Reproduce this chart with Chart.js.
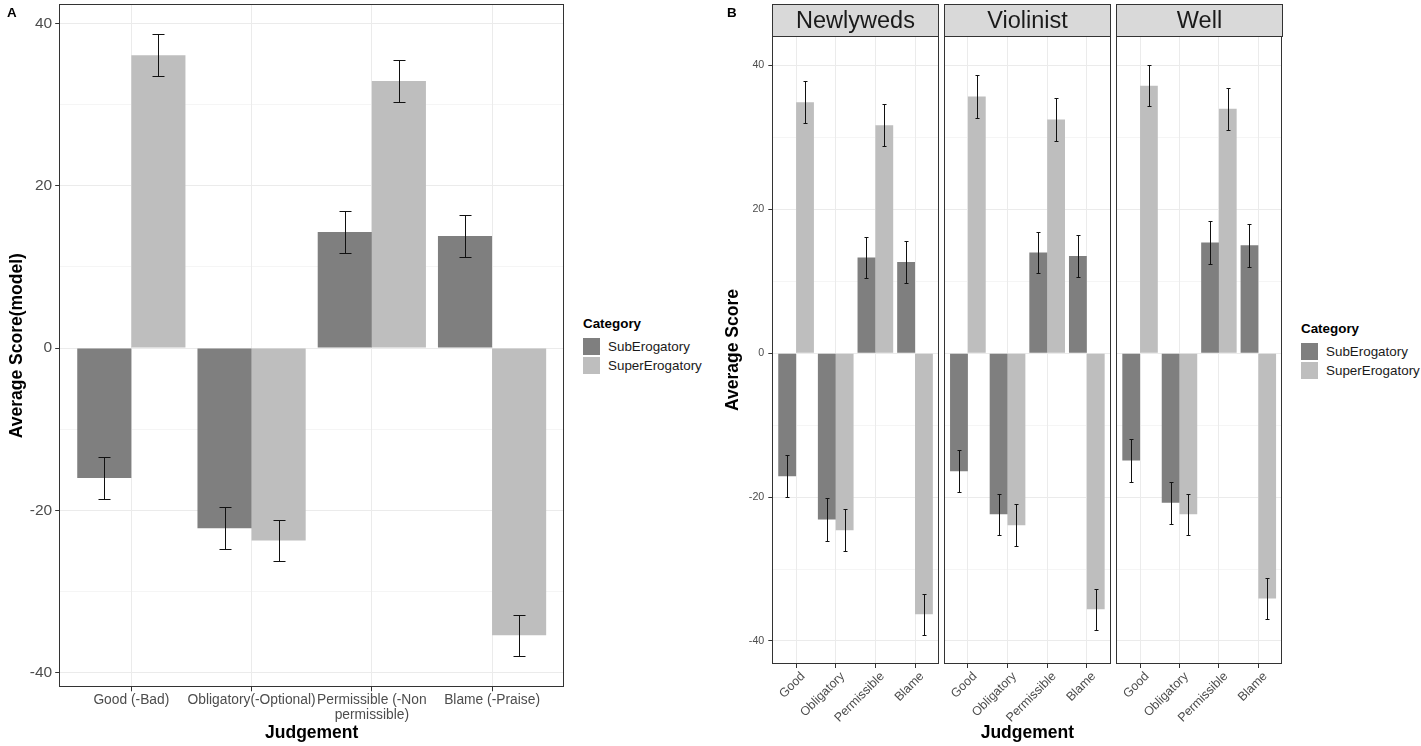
<!DOCTYPE html>
<html><head><meta charset="utf-8">
<script src="https://cdn.jsdelivr.net/npm/chart.js@4.4.0/dist/chart.umd.min.js"></script>
<style>
html,body{margin:0;padding:0;background:#fff;}
body{width:1421px;height:746px;position:relative;overflow:hidden;font-family:"Liberation Sans",Arial,sans-serif;}
canvas{position:absolute;top:0;}
.t{position:absolute;white-space:nowrap;line-height:16px;}
.strip{position:absolute;top:4px;height:33px;box-sizing:border-box;background:#d9d9d9;border:1px solid #333;display:flex;align-items:center;justify-content:center;font-size:23.5px;color:#1a1a1a;}
.key{position:absolute;width:17px;height:17px;}
</style></head><body>
<canvas id="cA" width="570" height="746" style="left:0px"></canvas>
<canvas id="cB0" width="221" height="746" style="left:720px"></canvas>
<canvas id="cB1" width="171" height="746" style="left:942px"></canvas>
<canvas id="cB2" width="171" height="746" style="left:1114px"></canvas>
<div id="overlay"></div>
<script>
// ---------------- data ----------------
const seriesNames = ['SubErogatory', 'SuperErogatory'];
const seriesColors = ['#7f7f7f', '#bebebe'];

// Panel A
const judgementsA = ['Good (-Bad)', 'Obligatory(-Optional)', ['Permissible (-Non', 'permissible)'], 'Blame (-Praise)'];
const subA = [-16.0, -22.2, 14.3, 13.8];
const subAErr = [2.6, 2.6, 2.6, 2.6];
const superA = [36.1, -23.7, 32.9, -35.4];
const superAErr = [2.6, 2.55, 2.55, 2.55];

// Panel B
const judgementsB = ['Good', 'Obligatory', 'Permissible', 'Blame'];
const facetNames = ['Newlyweds', 'Violinist', 'Well'];
const subNewlyweds = [-17.1, -23.1, 13.3, 12.7];
const subNewlywedsErr = [2.95, 2.95, 2.9, 2.95];
const superNewlyweds = [34.9, -24.6, 31.7, -36.3];
const superNewlywedsErr = [2.95, 2.9, 2.95, 2.9];
const subViolinist = [-16.4, -22.4, 14.0, 13.5];
const subViolinistErr = [2.95, 2.9, 2.9, 2.9];
const superViolinist = [35.7, -23.9, 32.5, -35.6];
const superViolinistErr = [2.95, 2.9, 2.95, 2.85];
const subWell = [-14.9, -20.8, 15.4, 15.0];
const subWellErr = [2.95, 2.9, 2.95, 2.95];
const superWell = [37.2, -22.4, 34.0, -34.1];
const superWellErr = [2.85, 2.9, 2.9, 2.85];

const yGridValues = [-40, -30, -20, -10, 0, 10, 20, 30, 40];
const yLabelStep = 20;

// ---------------- helpers ----------------
const F = '"Liberation Sans", Arial, sans-serif';

const errorBarPlugin = {
  id: 'errbars',
  afterDatasetsDraw(chart, args, opts) {
    const ctx = chart.ctx, ys = chart.scales.y;
    ctx.save();
    ctx.strokeStyle = opts.color || '#000';
    ctx.lineWidth = opts.width || 1;
    chart.data.datasets.forEach((ds, di) => {
      const meta = chart.getDatasetMeta(di);
      meta.data.forEach((el, i) => {
        const v = ds.data[i].y, e = ds.errors[i];
        const x = Math.round(el.x) + 0.5;
        const y1 = Math.round(ys.getPixelForValue(v + e)) + 0.5;
        const y2 = Math.round(ys.getPixelForValue(v - e)) + 0.5;
        const c = opts.cap / 2;
        ctx.beginPath();
        ctx.moveTo(x, y1); ctx.lineTo(x, y2);
        ctx.moveTo(x - c, y1); ctx.lineTo(x + c, y1);
        ctx.moveTo(x - c, y2); ctx.lineTo(x + c, y2);
        ctx.stroke();
      });
    });
    ctx.restore();
  }
};

const borderPlugin = {
  id: 'panelBorder',
  afterDraw(chart) {
    const a = chart.chartArea, ctx = chart.ctx;
    ctx.save();
    ctx.strokeStyle = '#333';
    ctx.lineWidth = 1;
    const l = Math.round(a.left) + 0.5, t = Math.round(a.top) + 0.5;
    const r = Math.round(a.right) - 0.5, b = Math.round(a.bottom) - 0.5;
    ctx.strokeRect(l, t, r - l, b - t);
    ctx.restore();
  }
};

function noPad(s) { s.paddingTop = 0; s.paddingBottom = 0; s.paddingLeft = 0; s.paddingRight = 0; }

function makeChart(id, o) {
  const datasets = [o.sub, o.sup].map((vals, k) => ({
    label: seriesNames[k],
    data: vals.map((v, i) => ({ x: i + 1, y: v })),
    errors: [o.subErr, o.supErr][k],
    backgroundColor: seriesColors[k],
    borderWidth: 0,
    categoryPercentage: 0.9,
    barPercentage: 1.0
  }));
  return new Chart(document.getElementById(id), {
    type: 'bar',
    data: { datasets },
    plugins: [errorBarPlugin, borderPlugin],
    options: {
      responsive: false,
      animation: false,
      events: [],
      layout: { padding: o.padding },
      plugins: {
        legend: { display: false },
        tooltip: { enabled: false },
        errbars: { cap: o.cap, color: '#111', width: 1 }
      },
      scales: {
        x: {
          type: 'linear', min: 0.4, max: 4.6, offset: false,
          afterBuildTicks: s => { s.ticks = o.xLabels.map((_, i) => ({ value: i + 1 })); },
          afterFit: s => { s.height = o.xHeight; noPad(s); },
          grid: { offset: false, color: '#ebebeb', lineWidth: 1, tickColor: '#333', tickLength: 4, tickWidth: 1 },
          border: { display: false },
          ticks: {
            callback: v => o.xLabels[Math.round(v) - 1],
            font: { family: F, size: o.xFont, lineHeight: 1.1 },
            color: '#4d4d4d', padding: o.xPad,
            minRotation: o.rot, maxRotation: o.rot, autoSkip: false,
            labelOffset: o.labelOffset || 0
          },
          title: {
            display: !!o.xTitle, text: o.xTitle || '',
            font: { family: F, size: 17.5, weight: 'bold' }, color: '#000',
            padding: { top: 0, bottom: 2.5 }
          }
        },
        y: {
          type: 'linear', min: o.ymin, max: o.ymax,
          afterBuildTicks: s => { s.ticks = yGridValues.map(v => ({ value: v })); },
          afterFit: s => { s.width = o.yWidth; noPad(s); },
          grid: {
            color: '#ebebeb',
            lineWidth: c => (c.tick && c.tick.value % yLabelStep === 0) ? 1 : 0.5,
            tickColor: c => (c.tick && c.tick.value % yLabelStep === 0) ? '#333' : 'rgba(0,0,0,0)',
            tickLength: 4, drawTicks: o.yTicks
          },
          border: { display: false },
          ticks: {
            display: o.yTicks,
            callback: v => (v % yLabelStep === 0 ? String(v) : ''),
            font: { family: F, size: o.yFont }, color: '#4d4d4d', padding: o.yPad
          },
          title: {
            display: !!o.yTitle, text: o.yTitle || '',
            font: { family: F, size: 17.5, weight: 'bold' }, color: '#000',
            padding: { top: o.yTitlePad || 0, bottom: 0 }
          }
        }
      }
    }
  });
}

// Panel A
makeChart('cA', {
  sub: subA, subErr: subAErr, sup: superA, supErr: superAErr,
  xLabels: judgementsA, xFont: 13.8, xPad: 1, rot: 0,
  xTitle: 'Judgement', xHeight: 58.7,
  ymin: -41.8, ymax: 42.4, yWidth: 59.2, yTicks: true, yFont: 15.5, yPad: 3,
  yTitle: 'Average Score(model)', yTitlePad: 6.2,
  padding: { top: 4, right: 5.8, left: 0, bottom: 0 }, cap: 12
});

// Panel B facets
const facetData = [
  [subNewlyweds, subNewlywedsErr, superNewlyweds, superNewlywedsErr],
  [subViolinist, subViolinistErr, superViolinist, superViolinistErr],
  [subWell, subWellErr, superWell, superWellErr]
];
const facetPads = [
  { top: 36, right: 2.2, left: 0, bottom: 0 },
  { top: 36, right: 2.4, left: 2.1, bottom: 0 },
  { top: 36, right: 3.0, left: 2.4, bottom: 0 }
];
facetData.forEach((d, f) => {
  makeChart('cB' + f, {
    sub: d[0], subErr: d[1], sup: d[2], supErr: d[3],
    xLabels: judgementsB, xFont: 12.5, xPad: 1.5, rot: 45, labelOffset: 7,
    xTitle: f === 1 ? 'Judgement' : '', xHeight: 82,
    ymin: -43.2, ymax: 44.1, yWidth: f === 0 ? 52.3 : 0, yTicks: f === 0, yFont: 10.7, yPad: 4,
    yTitle: f === 0 ? 'Average Score' : '', yTitlePad: 2.8,
    padding: facetPads[f], cap: 4
  });
});

// ---------------- text overlays ----------------
const ov = document.getElementById('overlay');
function addText(txt, left, top, style) {
  const d = document.createElement('div');
  d.className = 't';
  d.textContent = txt;
  d.style.left = left + 'px';
  d.style.top = top + 'px';
  Object.assign(d.style, style || {});
  ov.appendChild(d);
  return d;
}
function addKey(color, left, top) {
  const d = document.createElement('div');
  d.className = 'key';
  d.style.left = left + 'px'; d.style.top = top + 'px'; d.style.background = color;
  ov.appendChild(d);
}
addText('A', 7, 5, { fontWeight: 'bold', fontSize: '13.4px', color: '#000' });
addText('B', 727, 5, { fontWeight: 'bold', fontSize: '13.4px', color: '#000' });

// strips
const stripBoxes = [[772, 167], [944, 167], [1116, 167]];
facetNames.forEach((n, i) => {
  const d = document.createElement('div');
  d.className = 'strip';
  d.textContent = n;
  d.style.left = stripBoxes[i][0] + 'px';
  d.style.width = stripBoxes[i][1] + 'px';
  ov.appendChild(d);
});

// legends
function legend(x, titleY, keyTops) {
  addText('Category', x, titleY - 8, { fontWeight: 'bold', fontSize: '13.4px', color: '#000' });
  seriesNames.forEach((n, i) => {
    addKey(seriesColors[i], x, keyTops[i]);
    addText(n, x + 25, keyTops[i] + 1, { fontSize: '13.4px', color: '#1a1a1a' });
  });
}
legend(583, 324, [338, 356.5]);
legend(1301, 329, [343, 361.5]);
</script>
</body></html>
